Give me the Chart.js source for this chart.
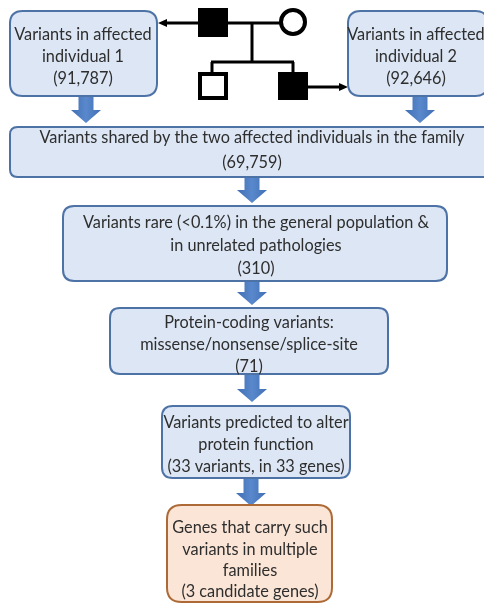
<!DOCTYPE html>
<html>
<head>
<meta charset="utf-8">
<script src="https://cdn.jsdelivr.net/npm/chart.js@4"></script>
<style>
  html, body { margin: 0; padding: 0; background: #fff; }
  #wrap { width: 484px; height: 604px; position: relative; }
</style>
</head>
<body>
<div id="wrap"><canvas id="flow"></canvas></div>
<script>
// counts at each filtering step
const stepCounts = [91787, 92646, 69759, 310, 71, 33, 3];
const stepText = [
  ['Variants in affected', 'individual 1'],
  ['Variants in affected', 'individual 2'],
  ['Variants shared by the two affected individuals in the family'],
  ['Variants rare (<0.1%) in the general population &', 'in unrelated pathologies'],
  ['Protein-coding variants:', 'missense/nonsense/splice-site'],
  ['Variants predicted to alter', 'protein function'],
  ['Genes that carry such', 'variants in multiple', 'families']
];
const countSuffix = ['', '', '', '', '', ' variants, in 33 genes', ' candidate genes'];

// layout (canvas units)
const boxX = [[10, 157], [348, 488], [10, 494], [63, 447], [110, 388], [162, 350], [167, 332]];
const boxY = [[11, 96], [11, 96], [127, 177], [206, 281], [308, 374], [406, 478], [505, 602]];
const textX = [83, 416, 252, 256, 249, 256, 250];
const textY0 = [35, 35, 138, 223, 323, 423, 528];
const lineGap = [22, 22, 25, 23, 22, 22, 21.3];
const arrows = [[86, 96, 123], [420, 96, 123], [252, 177, 203], [252, 281, 305], [252, 375, 402], [251, 479, 506]];

function rrect(ctx, x0, y0, x1, y1, r) {
  ctx.beginPath();
  ctx.moveTo(x0 + r, y0);
  ctx.lineTo(x1 - r, y0);
  ctx.quadraticCurveTo(x1, y0, x1, y0 + r);
  ctx.lineTo(x1, y1 - r);
  ctx.quadraticCurveTo(x1, y1, x1 - r, y1);
  ctx.lineTo(x0 + r, y1);
  ctx.quadraticCurveTo(x0, y1, x0, y1 - r);
  ctx.lineTo(x0, y0 + r);
  ctx.quadraticCurveTo(x0, y0, x0 + r, y0);
  ctx.closePath();
}

const flowPlugin = {
  id: 'flow',
  afterDatasetsDraw(chart) {
    const ctx = chart.ctx;
    const sx = v => chart.scales.x.getPixelForValue(v);
    const sy = v => chart.scales.y.getPixelForValue(v);
    ctx.save();

    // pedigree
    ctx.strokeStyle = '#000';
    ctx.fillStyle = '#000';
    ctx.lineWidth = 3;
    const seg = (a, b, c, d) => { ctx.beginPath(); ctx.moveTo(sx(a), sy(b)); ctx.lineTo(sx(c), sy(d)); ctx.stroke(); };
    seg(228, 23, 280, 23);
    seg(252, 23, 252, 62);
    seg(211, 62, 294, 62);
    seg(212, 62, 212, 74);
    seg(293, 62, 293, 74);
    seg(198, 23, 164, 23);
    seg(308, 87, 340, 87);
    const head = (x, y, dir) => {
      ctx.beginPath();
      ctx.moveTo(sx(x), sy(y));
      ctx.lineTo(sx(x - dir * 9), sy(y - 4));
      ctx.lineTo(sx(x - dir * 9), sy(y + 4));
      ctx.closePath();
      ctx.fill();
    };
    head(158, 23, -1);
    head(348, 87, 1);
    ctx.fillRect(sx(198), sy(8), sx(228) - sx(198), sy(37) - sy(8));
    ctx.fillRect(sx(278), sy(72), sx(308) - sx(278), sy(100) - sy(72));
    ctx.lineWidth = 4;
    ctx.strokeRect(sx(200), sy(74), sx(226) - sx(200), sy(98) - sy(74));
    ctx.beginPath();
    ctx.arc(sx(293), sy(22), 12, 0, Math.PI * 2);
    ctx.stroke();

    // block arrows
    arrows.forEach(([cx, y0, y1]) => {
      const hy = y1 - 13;
      const g = ctx.createLinearGradient(sx(cx - 15), 0, sx(cx + 15), 0);
      g.addColorStop(0, '#416fb5');
      g.addColorStop(0.5, '#5a88cc');
      g.addColorStop(1, '#416fb5');
      ctx.fillStyle = g;
      ctx.beginPath();
      ctx.moveTo(sx(cx - 7.5), sy(y0));
      ctx.lineTo(sx(cx + 7.5), sy(y0));
      ctx.lineTo(sx(cx + 7.5), sy(hy));
      ctx.lineTo(sx(cx + 15), sy(hy));
      ctx.lineTo(sx(cx), sy(y1));
      ctx.lineTo(sx(cx - 15), sy(hy));
      ctx.lineTo(sx(cx - 7.5), sy(hy));
      ctx.closePath();
      ctx.fill();
    });

    // boxes
    stepCounts.forEach((n, i) => {
      const x0 = sx(boxX[i][0]), x1 = sx(boxX[i][1]);
      const y0 = sy(boxY[i][0]), y1 = sy(boxY[i][1]);
      const r = Math.min(x1 - x0, y1 - y0) * 0.15;
      const last = i === stepCounts.length - 1;
      rrect(ctx, x0, y0, x1, y1, r);
      ctx.fillStyle = last ? '#fbe5d6' : '#dce6f4';
      ctx.fill();
      ctx.lineWidth = 2;
      ctx.strokeStyle = last ? '#ae6a36' : '#4d72a6';
      ctx.stroke();
    });

    // text
    ctx.fillStyle = '#2e2e2e';
    ctx.font = '16.3px Lato, "Open Sans", sans-serif';
    ctx.textAlign = 'center';
    ctx.textBaseline = 'middle';
    stepCounts.forEach((n, i) => {
      const lines = stepText[i].concat('(' + n.toLocaleString('en-US') + countSuffix[i] + ')');
      lines.forEach((t, k) => {
        ctx.fillText(t, sx(textX[i]), sy(textY0[i] + k * lineGap[i]));
      });
    });
    ctx.restore();
  }
};

new Chart(document.getElementById('flow'), {
  type: 'scatter',
  data: { datasets: [{ data: [], pointRadius: 0 }] },
  options: {
    responsive: true,
    maintainAspectRatio: false,
    animation: false,
    layout: { padding: 0 },
    plugins: { legend: { display: false }, tooltip: { enabled: false } },
    scales: {
      x: { type: 'linear', min: 0, max: 484, display: false },
      y: { type: 'linear', min: 0, max: 604, reverse: true, display: false }
    }
  },
  plugins: [flowPlugin]
});
</script>
</body>
</html>
